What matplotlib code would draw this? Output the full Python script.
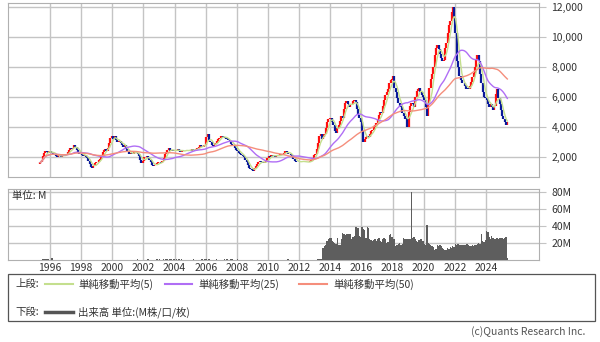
import numpy as np
import pandas as pd
import matplotlib
matplotlib.use("Agg")
import matplotlib.pyplot as plt
from matplotlib.patches import Rectangle
from matplotlib.lines import Line2D

plt.rcParams['font.family'] = ['Noto Sans CJK JP', 'DejaVu Sans']

# monthly close, from May 1995
start_year, start_month = 1995, 5
close = [
    1600, 1750, 2050, 2250, 2400, 2300, 2250, 2350,                        # 1995
    2300, 2250, 2200, 2150, 2050, 2000, 2100, 2050, 2000, 2100, 2050, 2100,  # 1996
    2150, 2300, 2450, 2550, 2500, 2600, 2800, 2650, 2450, 2300, 2200, 2150,  # 1997
    2100, 2050, 2100, 2000, 1900, 1700, 1500, 1300, 1250, 1350, 1550, 1600,  # 1998
    1650, 1750, 1850, 2000, 2300, 2450, 2500, 2400, 2600, 2900, 3250, 3350,  # 1999
    3200, 3400, 3100, 2950, 3000, 3050, 2900, 2750, 2650, 2750, 2500, 2300,  # 2000
    2200, 2150, 2250, 2200, 2300, 2350, 2250, 2150, 2050, 1750, 1550, 1700,  # 2001
    2000, 1950, 2050, 1900, 1750, 1600, 1450, 1350, 1400, 1500, 1550, 1600,  # 2002
    1600, 1550, 1700, 1900, 2150, 2300, 2450, 2600, 2350, 2450, 2350, 2400,  # 2003
    2450, 2400, 2500, 2350, 2300, 2450, 2400, 2350, 2400, 2450, 2400, 2450,  # 2004
    2400, 2500, 2450, 2400, 2500, 2550, 2650, 2750, 2700, 2650, 2750, 2800,  # 2005
    3300, 3500, 3050, 2950, 2750, 2700, 2800, 2900, 3050, 3200, 3250, 3350,  # 2006
    3400, 3300, 3250, 3150, 3250, 3100, 2950, 2850, 2800, 2750, 2550, 2450,  # 2007
    2350, 2250, 2150, 2100, 2050, 1950, 1750, 1600, 1400, 1200, 1150, 1100,  # 2008
    1050, 1200, 1350, 1500, 1650, 1700, 1600, 1650, 1550, 1600, 1700, 1900,  # 2009
    2050, 2000, 2100, 2050, 2100, 2000, 2050, 2100, 2050, 2150, 2100, 2200,  # 2010
    2250, 2400, 2300, 2200, 2150, 2100, 2050, 1850, 1700, 1650, 1600, 1650,  # 2011
    1700, 1650, 1700, 1650, 1600, 1650, 1600, 1650, 1700, 1750, 1850, 2100,  # 2012
    2200, 2500, 2900, 3400, 3500, 3200, 3300, 3500, 3900, 4300, 4500, 4600,  # 2013
    4600, 4300, 4100, 3700, 3600, 3900, 4100, 4400, 4700, 4600, 5200, 5600,  # 2014
    5700, 5500, 5300, 5450, 5500, 5750, 5800, 5650, 5200, 4800, 4600, 4300,  # 2015
    3700, 3000, 3200, 3300, 3400, 3300, 3500, 3700, 3800, 4000, 4100, 4250,  # 2016
    4500, 4800, 5000, 4900, 5400, 5800, 6100, 6300, 6500, 6900, 7100, 7200,  # 2017
    7400, 6600, 6300, 5900, 5600, 5400, 5300, 4900, 4700, 4500, 4600, 4000,  # 2018
    5000, 5400, 5600, 5500, 5300, 6000, 6400, 6500, 6600, 6300, 6100, 6000,  # 2019
    5800, 5300, 4700, 5600, 6600, 7200, 7500, 8000, 8800, 9300, 9500, 9200,  # 2020
    8900, 8600, 8400, 8500, 9300, 9600, 10300, 10800, 11100, 11700, 12000, 11300,  # 2021
    10300, 8400, 8000, 7400, 7100, 6900, 6900, 6700, 6500, 6600, 6500, 6700,  # 2022
    7000, 7300, 7600, 8000, 8500, 8800, 8400, 7500, 6900, 6300, 6000, 5900,  # 2023
    5800, 5500, 5300, 5500, 5300, 5100, 5400, 6200, 6500, 5900, 5500, 5100,  # 2024
    4700, 4500, 4300, 4100, 4300,                                          # 2025
]

# monthly volume (M), from Jul 2013
vol_start_year, vol_start_month = 2013, 7
volume = [
    14, 16, 18, 22, 24, 26,                                  # 2013
    26, 22, 21, 20, 19, 26, 18, 17, 24, 31, 30, 29,          # 2014
    30, 30, 30, 30, 24, 27, 28, 38, 39, 37, 28, 27,          # 2015
    39, 36, 35, 26, 38, 37, 24, 23, 22, 23, 24, 22,          # 2016
    25, 26, 22, 21, 24, 26, 25, 20, 21, 29, 30, 27,          # 2017
    24, 25, 16, 17, 19, 20, 18, 19, 26, 25, 24, 24,          # 2018
    24, 24, 79, 26, 27, 25, 22, 21, 23, 24, 25, 22,          # 2019
    19, 18, 41, 20, 19, 17, 16, 15, 12, 13, 17, 16,          # 2020
    17, 16, 14, 13, 12, 12, 14, 13, 15, 14, 16, 15,          # 2021
    19, 18, 19, 18, 18, 17, 18, 17, 17, 19, 18, 16,          # 2022
    16, 17, 16, 17, 18, 19, 20, 19, 30, 22, 21, 23,          # 2023
    34, 33, 27, 25, 28, 26, 24, 25, 26, 25, 26, 26,          # 2024
    26, 25, 26, 27, 2,                                       # 2025
]

# small volume bars before 2013
early_vol_months = ['1995-07', '1995-08', '1995-09', '1995-10', '1995-11', '1996-02',
                    '2001-08', '2002-04', '2002-11', '2003-01', '2003-04', '2003-06',
                    '2003-07', '2003-09', '2003-10', '2003-12', '2004-02', '2004-04',
                    '2004-06', '2005-03', '2005-09', '2005-10', '2005-12', '2006-01',
                    '2006-03', '2006-09', '2007-03', '2007-05', '2007-08', '2007-09',
                    '2008-01', '2011-04', '2013-03', '2013-04', '2013-05', '2013-06']
early_vol = [1.0, 1.0, 0.8, 1.0, 1.0, 2.5,
             0.8, 0.8, 0.7, 0.8, 1.0, 1.2,
             1.0, 1.0, 0.8, 1.0, 0.8, 1.0,
             0.8, 0.8, 1.0, 1.2, 1.0, 1.2,
             1.0, 0.8, 0.8, 1.0, 0.8, 1.0,
             0.8, 1.0, 0.8, 1.0, 1.0, 1.2]

year_ticks = list(range(1996, 2025, 2))
price_ticks = [2000, 4000, 6000, 8000, 10000, 12000]
vol_ticks = [20, 40, 60, 80]

ma_windows = [5, 25, 50]
ma_colors = ['#c4df8e', '#b06ef5', '#f58e7c']
ma_labels = ['単純移動平均(5)', '単純移動平均(25)', '単純移動平均(50)']

W, H = 600, 342
fig = plt.figure(figsize=(W / 100, H / 100), dpi=100)


def px_axes(left, top, right, bottom):
    return fig.add_axes([left / W, 1 - bottom / H, (right - left) / W, (bottom - top) / H])


def month_time(y, m, i=0):
    return y + (m - 1 + i + 0.5) / 12


grid_c = '#c4c4c4'
txt_c = '#333333'
fs = 7.5

# ---- price panel
ax = px_axes(8, 2.5, 539, 177)
t = np.array([month_time(start_year, start_month, i) for i in range(len(close))])
c = np.array(close, dtype=float)
o = np.concatenate([[c[0] - 100], c[:-1]])
up = c >= o
ax.vlines(t[up], o[up], c[up], color='#ff1010', lw=1.6, zorder=3)
ax.vlines(t[~up], o[~up], c[~up], color='#0a1a9a', lw=1.6, zorder=3)

s = pd.Series(c)
for w, col in zip(ma_windows, ma_colors):
    ax.plot(t, s.rolling(w, min_periods=1).mean(), color=col, lw=1.0, zorder=4)

ax.set_xlim(1993.3, 2027.41)
ax.set_ylim(626, 12322)
ax.set_xticks(year_ticks)
ax.set_xticklabels([])
ax.set_yticks(price_ticks)
ax.set_yticklabels([f'{v:,}' for v in price_ticks])
ax.yaxis.tick_right()
ax.tick_params(axis='x', length=0)
ax.tick_params(axis='y', length=5, color=grid_c, labelsize=fs, labelcolor=txt_c, pad=4)
ax.grid(True, color=grid_c, lw=1.0)
ax.set_axisbelow(True)
for sp in ax.spines.values():
    sp.set_color('#b0b0b0')

# ---- volume panel
axv = px_axes(8, 189, 539, 260)
vt = [month_time(vol_start_year, vol_start_month, i) for i in range(len(volume))]
axv.bar(vt, volume, width=1 / 12, color='#5e5e5e', lw=0, zorder=3)
et = [month_time(int(m[:4]), int(m[5:])) for m in early_vol_months]
axv.bar(et, early_vol, width=1 / 12, color='#5e5e5e', lw=0, zorder=3)
axv.set_xlim(1993.3, 2027.41)
axv.set_ylim(0, 83)
axv.set_xticks(year_ticks)
axv.set_xticklabels([str(y) for y in year_ticks])
axv.set_yticks(vol_ticks)
axv.set_yticklabels([f'{v}M' for v in vol_ticks])
axv.yaxis.tick_right()
axv.tick_params(axis='x', length=0, labelsize=fs, labelcolor=txt_c, pad=2)
axv.tick_params(axis='y', length=5, color=grid_c, labelsize=fs, labelcolor=txt_c, pad=4)
axv.grid(True, color=grid_c, lw=1.0)
axv.set_axisbelow(True)
for sp in axv.spines.values():
    sp.set_color('#b0b0b0')
axv.text(0.008, 0.90, '単位: M', transform=axv.transAxes, fontsize=fs, color=txt_c,
         va='center', ha='left', zorder=5)

# ---- legend box
def fx(x):
    return x / W


def fy(y):
    return 1 - y / H


fig.patches.append(Rectangle((fx(7.7), fy(321)), fx(595) - fx(7.7), fy(274) - fy(321),
                             transform=fig.transFigure, fill=False, ec='#555555', lw=0.9))
row1, row2 = 284, 312
fig.text(fx(15), fy(row1), '上段:', fontsize=fs, color=txt_c, va='center')
for (x0, x1, xt), col, lab in zip([(45, 73, 78), (165, 192, 198), (299, 327, 333)],
                                  ma_colors, ma_labels):
    fig.add_artist(Line2D([fx(x0), fx(x1)], [fy(row1), fy(row1)], color=col, lw=1.5,
                          transform=fig.transFigure))
    fig.text(fx(xt), fy(row1), lab, fontsize=fs, color=txt_c, va='center')
fig.text(fx(15), fy(row2), '下段:', fontsize=fs, color=txt_c, va='center')
fig.add_artist(Line2D([fx(45), fx(73)], [fy(row2), fy(row2)], color='#555555', lw=2.5,
                      transform=fig.transFigure))
fig.text(fx(78), fy(row2), '出来高 単位:(M株/口/枚)', fontsize=fs, color=txt_c, va='center')

fig.text(fx(585), fy(332), '(c)Quants Research Inc.', fontsize=fs, color='#555555',
         va='center', ha='right')

fig.savefig('out.png', dpi=100)
